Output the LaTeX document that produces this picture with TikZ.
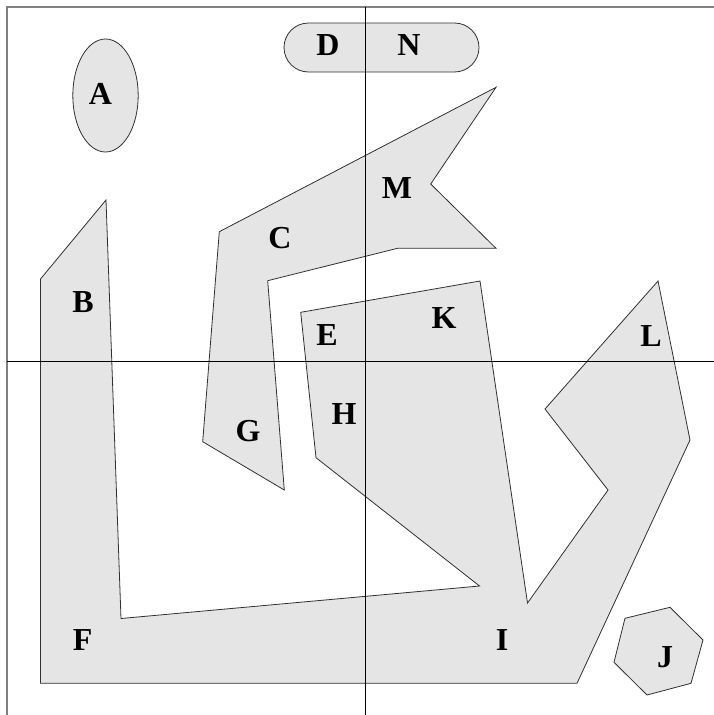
\documentclass[tikz,border=0pt]{standalone}
\usepackage{fontspec}
\setmainfont{Liberation Serif}
\usetikzlibrary{shapes.geometric}
\definecolor{shapefill}{HTML}{E5E5E5}
\definecolor{shapeline}{HTML}{303030}
\tikzset{
  region/.style={fill=shapefill, draw=shapeline, line width=0.8pt, line join=miter},
  lbl/.style={inner sep=0pt, anchor=center, font=\fontsize{32}{36}\selectfont\bfseries},
  axisline/.style={draw=black, line width=0.9pt},
  frameline/.style={draw=gray, line width=1.6pt}
}
\begin{document}
\begin{tikzpicture}[x=1pt, y=-1pt]
\useasboundingbox (0,0) rectangle (714,715);
% frame
\draw[frameline] (714,7) -- (7,7) -- (7,715);
% ellipse A
\draw[region] (105.5,95.5) ellipse [x radius=32.7, y radius=56.5];
% capsule D N
\draw[region, rounded corners=24.5] (284,23) rectangle (479,72);
% big polygon B F E H K I L
\draw[region] (40.5,279) -- (106,200) -- (121,618.5) -- (479.5,586) -- (316,457.7)
  -- (300.7,312.3) -- (480,281) -- (527.5,603) -- (608,490) -- (545,409)
  -- (658,281) -- (690,440) -- (577,683.3) -- (40.5,683.3) -- cycle;
% polygon C G M
\draw[region] (202.7,441.7) -- (219.3,231.7) -- (496,87.3) -- (430.7,184)
  -- (496,248.3) -- (397.5,248.3) -- (267.7,280.7) -- (284.3,490) -- cycle;
% hexagon J
\draw[region] (625,618.3) -- (670,607.3) -- (703,640) -- (691,683.3)
  -- (647,695) -- (614,662.3) -- cycle;
% axes
\draw[axisline] (7,361.3) -- (714,361.3);
\draw[axisline] (365.7,7) -- (365.7,715);
% labels
\node[lbl] (A) at (100.5,93.5) {A};
\node[lbl] (B) at (83,302) {B};
\node[lbl] (C) at (280,238) {C};
\node[lbl] (D) at (328,44.7) {D};
\node[lbl] (N) at (409,45) {N};
\node[lbl] (E) at (327,335) {E};
\node[lbl] (F) at (82.7,640) {F};
\node[lbl] (G) at (248,431) {G};
\node[lbl] (H) at (344,414) {H};
\node[lbl] (I) at (502,640) {I};
\node[lbl] (J) at (665,657) {J};
\node[lbl] (K) at (444,318.5) {K};
\node[lbl] (L) at (651,336) {L};
\node[lbl] (M) at (397,188) {M};
\end{tikzpicture}
\end{document}
